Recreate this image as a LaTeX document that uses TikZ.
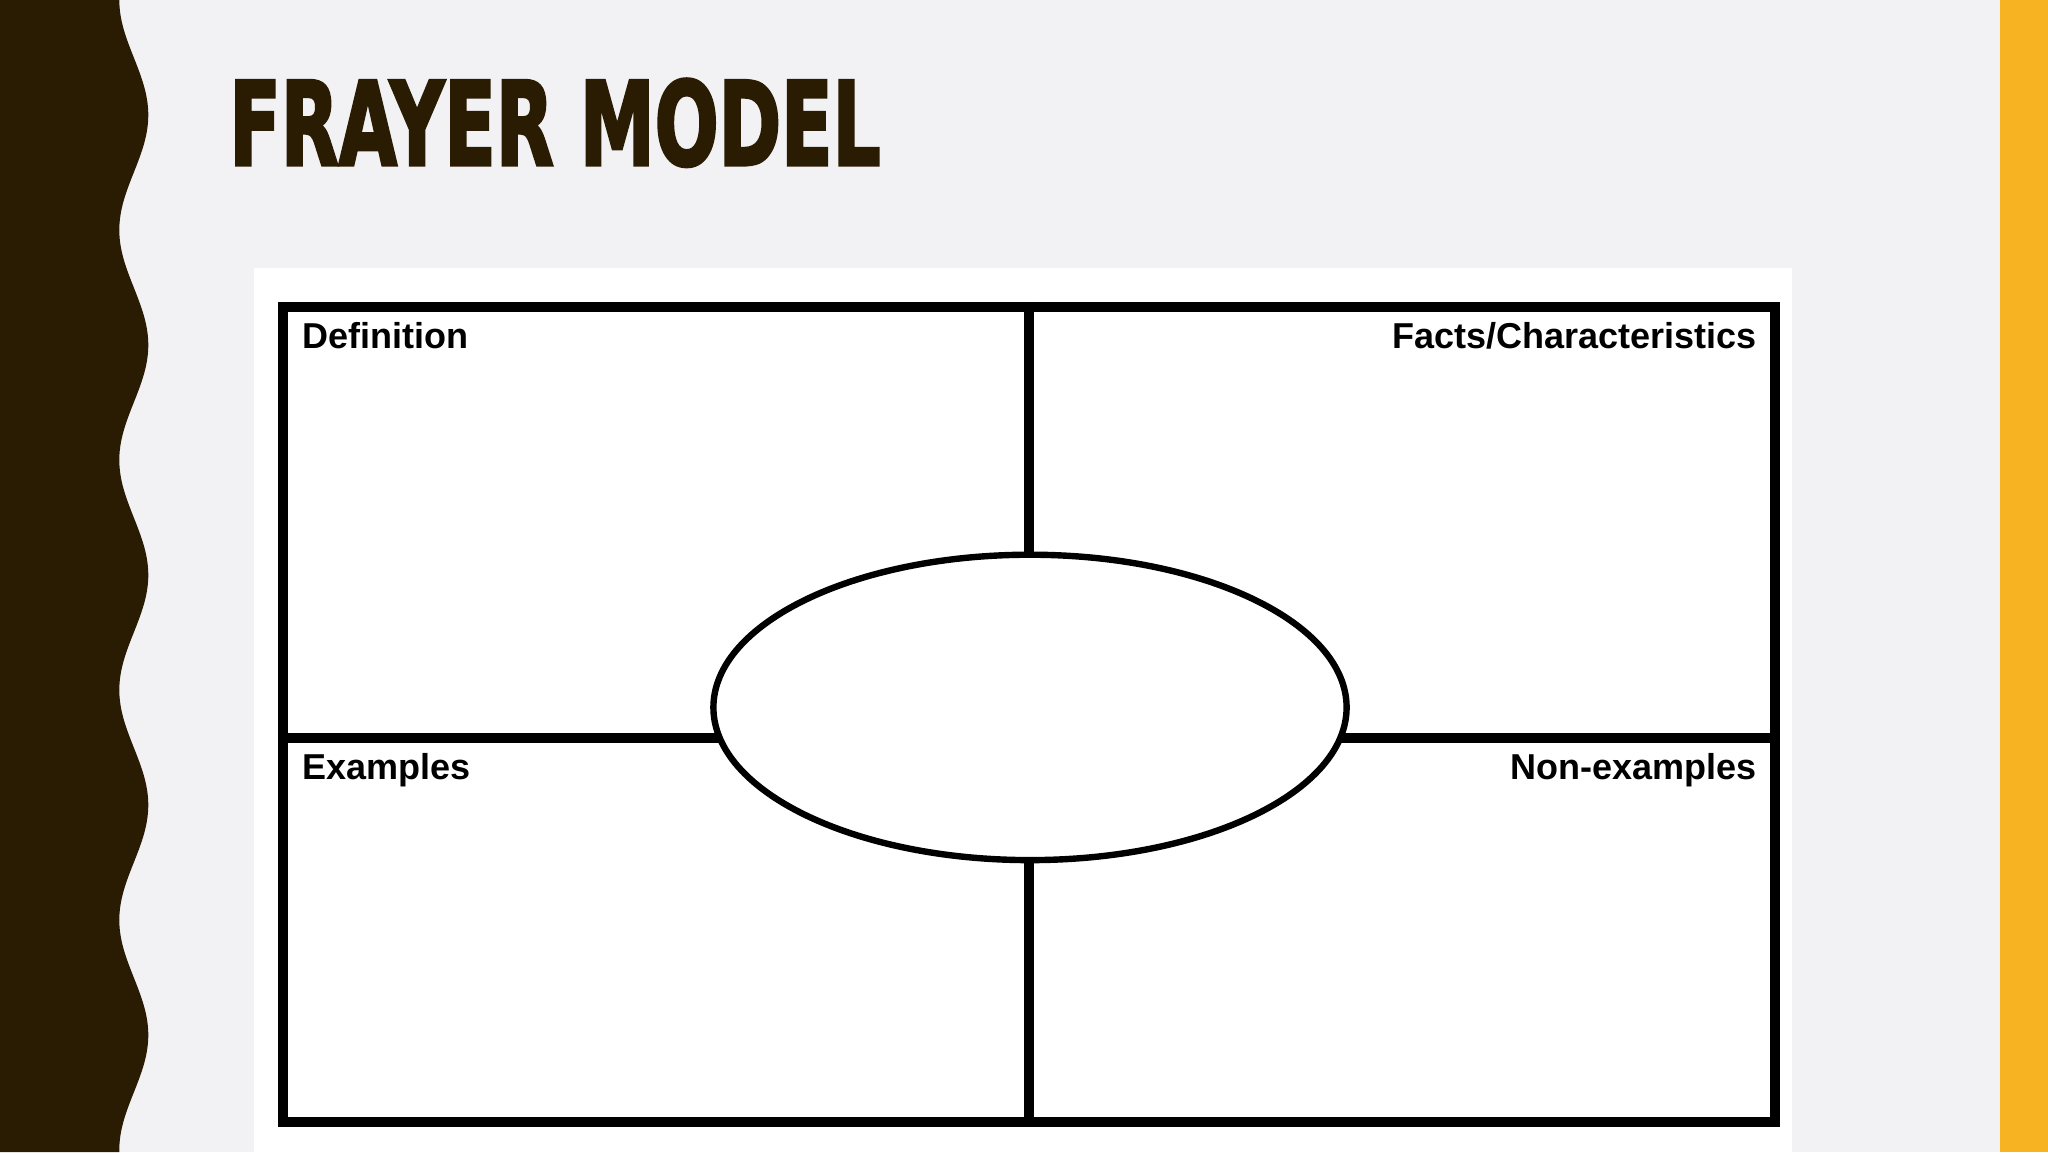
\documentclass[tikz,border=0pt]{standalone}
\usepackage{fontspec}
\usepackage{graphicx}
\usetikzlibrary{shapes.geometric}
\setmainfont{Liberation Sans}
\newfontfamily\titlefont{DejaVu Sans}[FakeBold=3]
\definecolor{bgc}{HTML}{F2F2F4}
\definecolor{brownc}{HTML}{2A1C02}
\definecolor{orangec}{HTML}{F8B323}
\tikzset{
  label/.style={inner sep=0pt, font=\fontsize{18pt}{20pt}\selectfont\bfseries, text=black},
  thick line/.style={line width=5pt, draw=black},
}
\begin{document}
\begin{tikzpicture}[x=0.5pt, y=-0.5pt]
\useasboundingbox (0,0) rectangle (2048,1152);
% background
\fill[bgc] (0,0) rectangle (2048,1152);
\fill[orangec] (2000,0) rectangle (2048,1152);
% wavy left band
\fill[brownc] (0,0) -- plot[domain=0:1152, samples=300, smooth] ({133.8-14.5*cos(1.565217*\x)}, \x) -- (0,1152) -- cycle;
% title
\node[anchor=south west, inner sep=0pt, text=brownc] (title) at (229,167)
  {\resizebox{325.5pt}{43pt}{\titlefont\bfseries FRAYER MODEL}};
% white panel
\fill[white] (254,268) rectangle (1792,1152);
% frame
\node[thick line, rectangle, minimum width=746.25pt, minimum height=407.5pt, inner sep=0pt] (frame) at (1028.75,714) {};
\coordinate (mid) at (1029,738);
\draw[thick line] (frame.west |- mid) -- (frame.east |- mid);
\draw[thick line] (frame.north) -- (frame.south);
% centre ellipse
\node[ellipse, draw=black, line width=3.2pt, fill=white, minimum width=316.6pt, minimum height=152.7pt, inner sep=0pt] (ell) at (1030,707.4) {};
% labels
\node[label, anchor=base west] (def) at (301.7,348.3) {Definition};
\node[label, anchor=base east] (facts) at (1756.7,348.3) {Facts/Characteristics};
\node[label, anchor=base west] (ex) at (301.7,779.3) {Examples};
\node[label, anchor=base east] (nonex) at (1756.7,779.3) {Non-examples};
\end{tikzpicture}
\end{document}
